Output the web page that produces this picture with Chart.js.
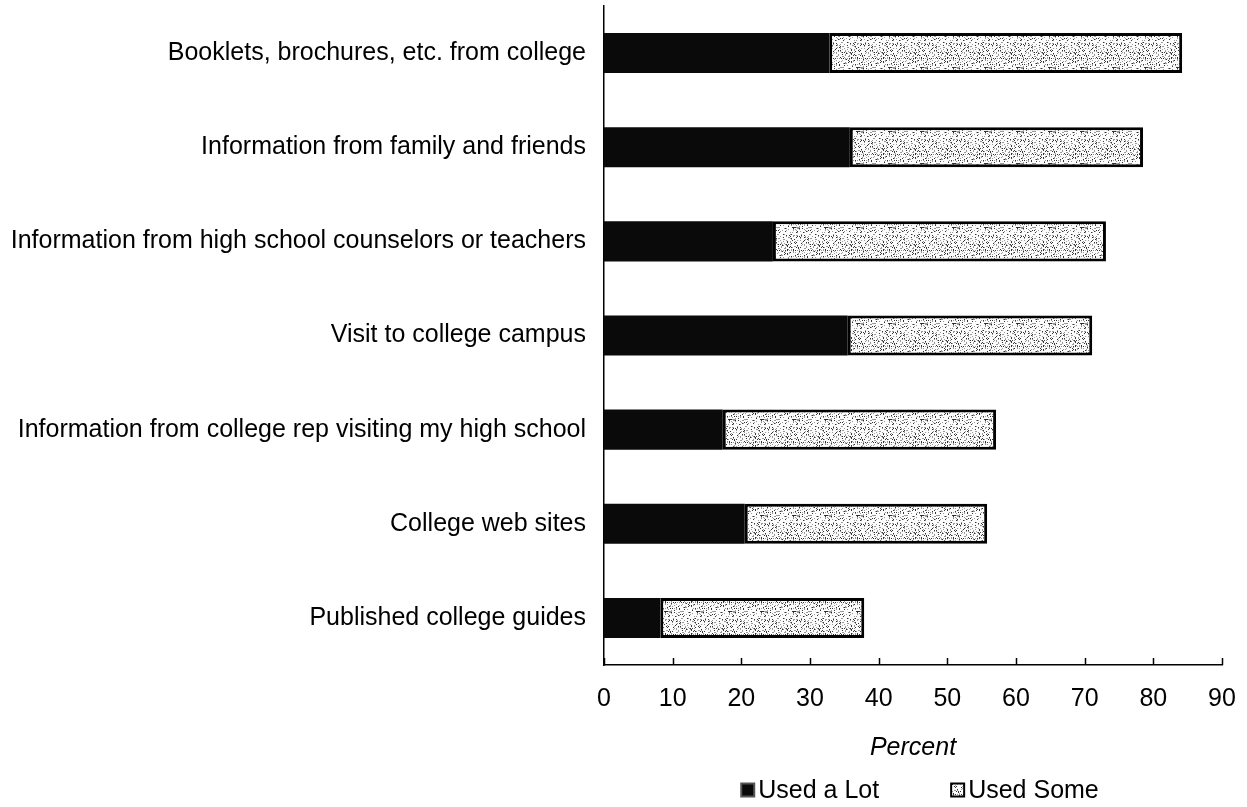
<!DOCTYPE html>
<html>
<head>
<meta charset="utf-8">
<script src="https://cdn.jsdelivr.net/npm/chart.js@4/dist/chart.umd.min.js"></script>
<style>
    html, body { margin: 0; padding: 0; background: #fff; }
    canvas { display: block; }
</style>
</head>
<body>
<canvas id="myChart" width="1247" height="807"></canvas>
<script>
const sources = [
    'Booklets, brochures, etc. from college',
    'Information from family and friends',
    'Information from high school counselors or teachers',
    'Visit to college campus',
    'Information from college rep visiting my high school',
    'College web sites',
    'Published college guides'
]
const usedALot = [32.8, 35.8, 24.6, 35.5, 17.3, 20.5, 8.2]
const usedSome = [51.4, 42.7, 48.5, 35.6, 39.8, 35.3, 29.7]
const xTicks = [0, 10, 20, 30, 40, 50, 60, 70, 80, 90]

const FONT = 'Liberation Sans'

// speckled light fill for the "Used Some" segments
function speckle() {
    const c = document.createElement('canvas')
    c.width = 32
    c.height = 32
    const g = c.getContext('2d')
    g.fillStyle = '#fcfcfc'
    g.fillRect(0, 0, 32, 32)
    for (let y = 0; y < 32; y++) {
        for (let x = 0; x < 32; x++) {
            const h = (x * 37 + y * 91 + x * y * 13 + ((x ^ y) * 7)) % 23
            if (h === 0 || h === 9) { g.fillStyle = '#333'; g.fillRect(x, y, 1, 1) }
            else if (h === 4 || h === 15 || h === 19) { g.fillStyle = '#999'; g.fillRect(x, y, 1, 1) }
        }
    }
    return g.createPattern(c, 'repeat')
}

const someFill = speckle()

// small tick marks pointing up from the x axis
const innerTicks = {
    id: 'innerTicks',
    afterDraw(chart) {
        const x = chart.scales.x
        const ctx = chart.ctx
        ctx.save()
        ctx.strokeStyle = '#000'
        ctx.lineWidth = 1.5
        for (const v of xTicks) {
            const px = Math.round(x.getPixelForValue(v)) + 0.5
            ctx.beginPath()
            ctx.moveTo(px, x.top)
            ctx.lineTo(px, x.top - 7)
            ctx.stroke()
        }
        ctx.restore()
    }
}

// legend row under the axis title
const bottomLegend = {
    id: 'bottomLegend',
    afterDraw(chart) {
        const ctx = chart.ctx
        const items = chart.data.datasets.map(ds => ({ text: ds.label, fill: ds.backgroundColor }))
        const box = 13, gap = 4, spacing = 72
        ctx.save()
        ctx.font = `25px "${FONT}"`
        ctx.textBaseline = 'middle'
        const widths = items.map(it => box + gap + ctx.measureText(it.text).width)
        const total = widths.reduce((a, b) => a + b, 0) + spacing * (items.length - 1)
        const area = chart.chartArea
        let x = (area.left + area.right) / 2 + 7 - total / 2
        const y = 790
        items.forEach((it, i) => {
            ctx.fillStyle = it.fill
            ctx.fillRect(x, y - box / 2, box, box)
            ctx.strokeStyle = i === 0 ? '#555' : '#000'
            ctx.lineWidth = 2
            ctx.strokeRect(x, y - box / 2, box, box)
            ctx.fillStyle = '#000'
            ctx.fillText(it.text, x + box + gap, y + 1)
            x += widths[i] + spacing
        })
        ctx.restore()
    }
}

const ctx = document.getElementById('myChart')
const myChart = new Chart(ctx, {
    type: 'bar',
    data: {
        labels: sources,
        datasets: [{
            label: 'Used a Lot',
            data: usedALot,
            backgroundColor: '#0a0a0a',
            borderWidth: 0,
            barPercentage: 0.426,
            categoryPercentage: 1
        }, {
            label: 'Used Some',
            data: usedSome,
            backgroundColor: someFill,
            borderColor: '#000',
            borderWidth: 3,
            borderSkipped: false,
            barPercentage: 0.426,
            categoryPercentage: 1
        }]
    },
    plugins: [innerTicks, bottomLegend],
    options: {
        indexAxis: 'y',
        responsive: false,
        animation: false,
        layout: {
            padding: { top: 6, right: 25, left: 0, bottom: 42 }
        },
        scales: {
            x: {
                stacked: true,
                min: 0,
                max: 90,
                ticks: {
                    stepSize: 10,
                    padding: 19,
                    color: '#000',
                    font: { family: FONT, size: 25 }
                },
                grid: { display: false, drawTicks: false },
                border: { display: true, color: '#000', width: 1.5 },
                title: {
                    display: true,
                    text: 'Percent',
                    color: '#000',
                    padding: { top: 0, bottom: 2 },
                    font: { family: FONT, size: 25, style: 'italic' }
                },
                afterFit(scale) {
                    scale.height = 100
                    scale.paddingLeft = 0
                    scale.paddingRight = 0
                }
            },
            y: {
                stacked: true,
                ticks: {
                    padding: 18,
                    color: '#000',
                    font: { family: FONT, size: 25 }
                },
                grid: { display: false, drawTicks: false },
                border: { display: true, color: '#000', width: 1.5 },
                afterFit(scale) {
                    scale.width = 604
                    scale.paddingTop = 0
                    scale.paddingBottom = 0
                }
            }
        },
        plugins: {
            legend: { display: false },
            tooltip: { enabled: false }
        }
    }
})
</script>
</body>
</html>
